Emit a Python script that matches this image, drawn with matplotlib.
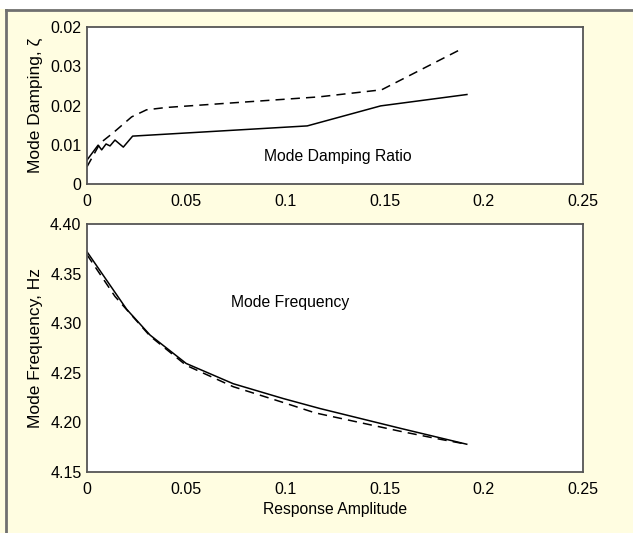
import matplotlib
matplotlib.use("Agg")
import matplotlib.pyplot as plt
from matplotlib.lines import Line2D
from matplotlib.patches import Rectangle

plt.rcParams["font.family"] = ["Liberation Sans", "DejaVu Sans"]
plt.rcParams["font.size"] = 11

CREAM = "#FFFDE1"
EDGE = "#555555"

# --- data ---------------------------------------------------------------
damp_x_solid = [0.0, 0.0056, 0.0074, 0.0096, 0.0116, 0.0141, 0.0183, 0.023,
                0.111, 0.148, 0.1915]
damp_y_solid = [0.0061, 0.0099, 0.0087, 0.0102, 0.0097, 0.0112, 0.0094, 0.0122,
                0.0148, 0.0199, 0.0228]
damp_x_dash = [0.0, 0.0066, 0.0131, 0.0225, 0.030, 0.040, 0.117, 0.1485, 0.1895]
damp_y_dash = [0.0044, 0.0104, 0.0130, 0.0171, 0.0189, 0.0195, 0.0222, 0.0240, 0.0346]

freq_x_solid = [0.0, 0.02, 0.0318, 0.050, 0.0737, 0.099, 0.1174, 0.158, 0.1914]
freq_y_solid = [4.372, 4.314, 4.288, 4.2594, 4.239, 4.224, 4.214, 4.194, 4.178]
freq_x_dash = [0.0, 0.0141, 0.0318, 0.050, 0.0737, 0.099, 0.115, 0.158, 0.178, 0.1914]
freq_y_dash = [4.369, 4.327, 4.287, 4.2575, 4.236, 4.220, 4.2096, 4.191, 4.183, 4.178]

x_ticks = [0, 0.05, 0.1, 0.15, 0.2, 0.25]
x_labels = ["0", "0.05", "0.1", "0.15", "0.2", "0.25"]
damp_ticks = [0, 0.01, 0.02, 0.03, 0.04]
damp_labels = ["0", "0.01", "0.02", "0.03", "0.02"]
freq_ticks = [4.15, 4.20, 4.25, 4.30, 4.35, 4.40]
freq_labels = ["4.15", "4.20", "4.25", "4.30", "4.35", "4.40"]

W, H = 633, 533
fig = plt.figure(figsize=(W / 100, H / 100), dpi=100)
fig.patch.set_facecolor(CREAM)

# white strip at top + grey frame lines
fig.patches.append(Rectangle((0, 1 - 9 / H), 1, 9 / H, transform=fig.transFigure,
                             facecolor="white", edgecolor="none", zorder=0))
fig.lines.append(Line2D([5.5 / W, 1], [1 - 9.5 / H] * 2, transform=fig.transFigure,
                        color="#707070", lw=2))
fig.lines.append(Line2D([5.5 / W] * 2, [0, 1 - 9.5 / H], transform=fig.transFigure,
                        color="#707070", lw=2))


def style(ax):
    for s in ax.spines.values():
        s.set_color(EDGE)
        s.set_linewidth(1.3)
    ax.tick_params(length=0, labelsize=11.5, colors="black")
    ax.tick_params(axis="x", pad=7)
    ax.tick_params(axis="y", pad=4)
    ax.set_xlim(0, 0.25)
    ax.set_xticks(x_ticks)
    ax.set_xticklabels(x_labels)


ax1 = fig.add_axes([87 / W, 1 - 184 / H, 496 / W, 157 / H])
ax1.plot(damp_x_solid, damp_y_solid, color="black", lw=1.1)
ax1.plot(damp_x_dash, damp_y_dash, color="black", lw=1.1, ls=(0, (6, 4)))
ax1.set_ylim(0, 0.04)
ax1.set_yticks(damp_ticks)
ax1.set_yticklabels(damp_labels)
ax1.set_ylabel("Mode Damping, ζ", fontsize=12.5, labelpad=5)
ax1.text(0.089, 0.0069, "Mode Damping Ratio", fontsize=11.3, va="center")
style(ax1)

ax2 = fig.add_axes([87 / W, 1 - 472 / H, 496 / W, 248 / H])
ax2.plot(freq_x_solid, freq_y_solid, color="black", lw=1.1)
ax2.plot(freq_x_dash, freq_y_dash, color="black", lw=1.1, ls=(0, (6, 4)))
ax2.set_ylim(4.15, 4.40)
ax2.set_yticks(freq_ticks)
ax2.set_yticklabels(freq_labels)
ax2.set_ylabel("Mode Frequency, Hz", fontsize=12.5, labelpad=5)
ax2.set_xlabel("Response Amplitude", fontsize=11.3, labelpad=4)
ax2.text(0.0726, 4.3206, "Mode Frequency", fontsize=11.3, va="center")
style(ax2)

fig.savefig("out.png", dpi=100, facecolor=CREAM)
